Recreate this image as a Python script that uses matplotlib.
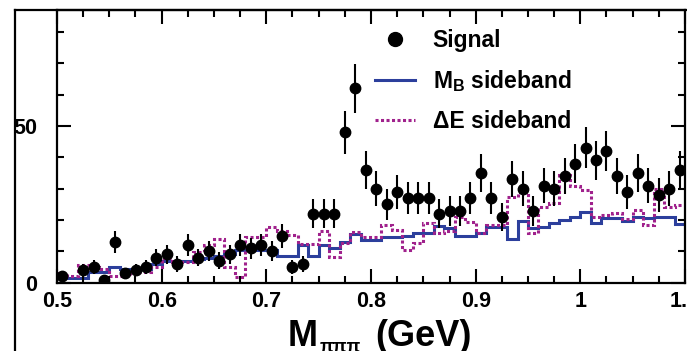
import numpy as np
import matplotlib.pyplot as plt
from matplotlib.lines import Line2D
from matplotlib.ticker import MultipleLocator, FuncFormatter

plt.rcParams['font.family'] = ['Liberation Sans', 'DejaVu Sans']
plt.rcParams['font.weight'] = 'bold'
plt.rcParams['mathtext.fontset'] = 'custom'
plt.rcParams['mathtext.rm'] = 'Liberation Sans:bold'
plt.rcParams['mathtext.it'] = 'Liberation Sans:bold:italic'
plt.rcParams['mathtext.bf'] = 'Liberation Sans:bold'

# 60 bins of 10 MeV from 0.5 to 1.1 GeV
bin_lo = 0.5
bin_w = 0.01

signal = np.array([2, np.nan, 4, 5, 1, 13, 3, 4, 5, 8,
                   9, 6, 12, 8, 10, 7, 9, 12, 11, 12,
                   10, 15, 5, 6, 22, 22, 22, 48, 62, 36,
                   30, 25, 29, 27, 27, 27, 22, 23, 23, 27,
                   35, 27, 21, 33, 30, 23, 31, 30, 34, 38,
                   43, 39, 42, 34, 29, 35, 31, 28, 30, 36])

mb_side = [2, 1.5, 1.5, 3.5, 3.5, 5, 4.5, 4.5, 4.5, 6,
           7, 7, 7, 7.5, 8, 8.5, 9, 10.5, 10.5, 10.5,
           10.5, 8.5, 8.5, 12, 8.5, 12, 11, 13, 15.5, 13.5,
           13.5, 14.5, 14.5, 15, 16, 16, 18, 17.5, 15, 15,
           15.8, 17.9, 17.9, 13.9, 19.8, 17.4, 17.9, 19, 20, 21,
           22.7, 19.2, 20.6, 20.6, 19.8, 21, 20.6, 21, 21, 18.7]

de_side = [3, 2, 5.5, 5, 4.5, 2, 2, 3.5, 3.5, 5,
           7.8, 6.5, 6.7, 9.9, 12, 14, 5.1, 1.7, 14.7, 14.7,
           17.9, 16.5, 15.2, 12.3, 12.3, 16.5, 8.3, 12.8, 16.3, 14.5,
           14.5, 18.4, 16.8, 10.4, 12.6, 19, 16, 16.5, 21, 19.5,
           16, 18.4, 18.4, 27.5, 29, 15.8, 24.3, 25.3, 34.4, 30.7,
           29.6, 21, 21.6, 22.2, 20.3, 23.2, 18.4, 30, 24, 24.8]

edges = bin_lo + bin_w * np.arange(len(signal) + 1)
centers = edges[:-1] + bin_w / 2
err = np.sqrt(signal)

blue = '#2c3f9c'
mag = '#a0218c'

W, H = 687, 351
fig = plt.figure(figsize=(W / 100, H / 100), dpi=100)
ax = fig.add_axes([57 / W, (H - 282.7) / H, (685 - 57) / W, (282.7 - 10) / H])

ax.stairs(mb_side, edges, color=blue, lw=2.2, baseline=None)
ax.stairs(de_side, edges, color=mag, lw=2.2, ls=(0, (1, 0.8)), baseline=None)
ax.errorbar(centers, signal, yerr=err, fmt='o', color='black', ms=7.5,
            elinewidth=1.5, capsize=0)

ax.set_xlim(0.5, 1.1)
ax.set_ylim(0, 87)
ax.xaxis.set_major_locator(MultipleLocator(0.1))
ax.xaxis.set_minor_locator(MultipleLocator(0.025))
ax.yaxis.set_major_locator(MultipleLocator(50))
ax.yaxis.set_minor_locator(MultipleLocator(10))
ax.xaxis.set_major_formatter(FuncFormatter(lambda v, p: f'{v:g}'))
ax.yaxis.set_major_formatter(FuncFormatter(lambda v, p: f'{v:g}'))
ax.tick_params(which='both', direction='in', top=True, right=True, width=1.5)
ax.tick_params(which='major', length=10)
ax.tick_params(which='minor', length=5)
ax.tick_params(axis='x', labelsize=15.5, pad=6)
ax.tick_params(axis='y', labelsize=15.5, pad=14)
for s in ax.spines.values():
    s.set_linewidth(1.6)

# axis title: M, small subscript, (GeV)
fig.text(288 / W, (H - 346) / H, 'M', fontsize=26, fontweight='bold',
         ha='left', va='baseline')
fig.text(320 / W, (H - 352) / H, '\u03c0\u03c0\u03c0', fontsize=13, fontweight='bold',
         ha='left', va='baseline')
fig.text(375 / W, (H - 346) / H, '(GeV)', fontsize=26, fontweight='bold',
         ha='left', va='baseline')

handles = [Line2D([], [], ls='none', marker='o', color='black', ms=10),
           Line2D([], [], color=blue, lw=2.2),
           Line2D([], [], color=mag, lw=2.2, ls=(0, (1, 0.8)))]
labels = ['Signal', r'M$_{\rm B}$ sideband', '\u0394E sideband']
ax.legend(handles, labels, loc='upper left', bbox_to_anchor=(0.506, 0.93),
          frameon=False, fontsize=16.5, handlelength=1.75, handletextpad=0.78,
          labelspacing=0.7, borderpad=0, borderaxespad=0)

# outer pad frame
fig.add_artist(Line2D([15 / W, 15 / W], [0, (H - 10) / H], transform=fig.transFigure,
                      color='black', lw=1.6))
fig.add_artist(Line2D([15 / W, 1], [(H - 10) / H, (H - 10) / H], transform=fig.transFigure,
                      color='black', lw=1.6))

fig.savefig('out.png', dpi=100)
